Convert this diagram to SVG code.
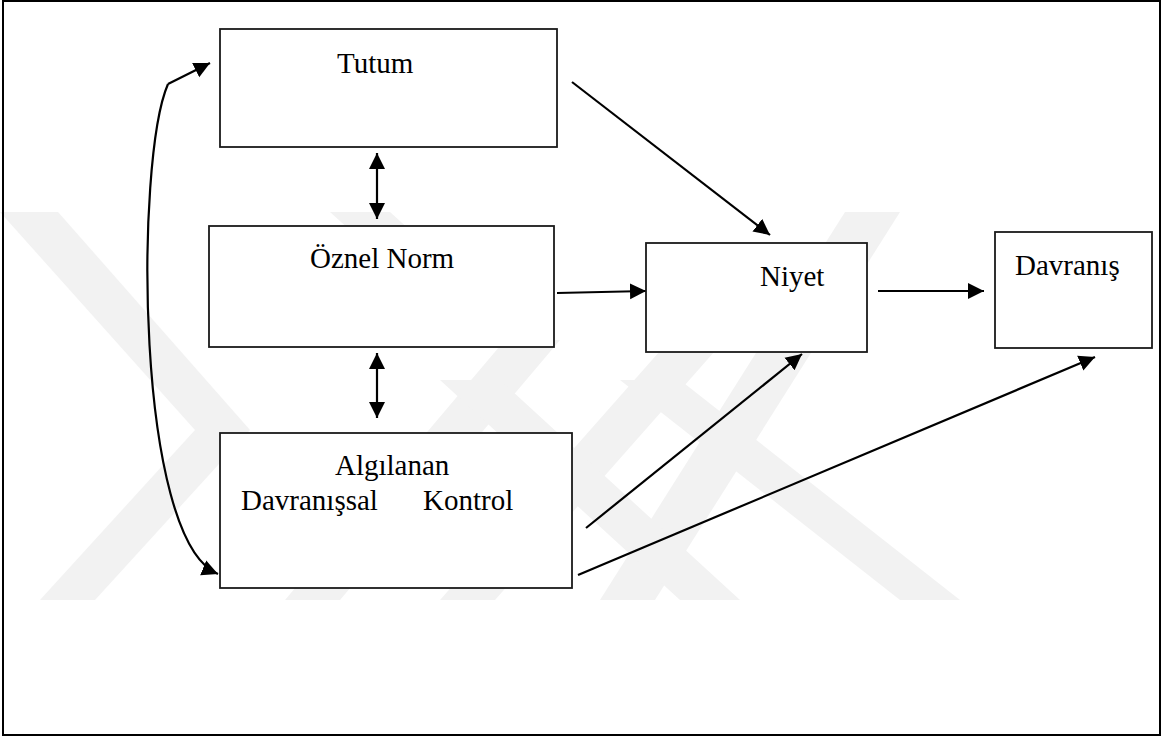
<svg xmlns="http://www.w3.org/2000/svg" width="1168" height="738" viewBox="0 0 1168 738">
<defs>
<marker id="ah" markerUnits="userSpaceOnUse" markerWidth="17" markerHeight="17" refX="16" refY="8.5" orient="auto-start-reverse" viewBox="0 0 17 17">
<path d="M0,0.5 L16,8.5 L0,16.5 z" fill="#000"/>
</marker>
</defs>
<style>
.box{fill:#fff;stroke:#1a1a1a;stroke-width:1.8}
.lbl{font-family:"Liberation Serif","Times New Roman",serif;font-size:29px;fill:#000}
.con{fill:none;stroke:#000;stroke-width:2.2}
.wm{fill:#f2f2f2}
</style>
<rect x="0" y="0" width="1168" height="738" fill="#fff"/>
<g id="watermark">
<polygon class="wm" points="0,212 58,212 250,430 195,430"/>
<polygon class="wm" points="195,430 250,430 95,600 40,600"/>
<polygon class="wm" points="285,600 340,600 560,340 505,340"/>
<polygon class="wm" points="440,600 495,600 760,300 705,300"/>
<polygon class="wm" points="600,600 655,600 900,212 845,212"/>
<polygon class="wm" points="440,380 500,380 740,600 680,600"/>
<polygon class="wm" points="620,380 680,380 960,600 900,600"/>
<polygon class="wm" points="330,212 390,212 520,330 460,330"/>
</g>
<rect x="3" y="1" width="1157" height="734" fill="none" stroke="#000" stroke-width="2"/>
<g id="connectors">
<line class="con" x1="377" y1="153" x2="377" y2="219" marker-start="url(#ah)" marker-end="url(#ah)"/>
<line class="con" x1="377" y1="353" x2="377" y2="418" marker-start="url(#ah)" marker-end="url(#ah)"/>
<line class="con" x1="572" y1="82" x2="770" y2="235" marker-end="url(#ah)"/>
<line class="con" x1="557" y1="293" x2="646" y2="291" marker-end="url(#ah)"/>
<line class="con" x1="878" y1="291" x2="984" y2="291" marker-end="url(#ah)"/>
<line class="con" x1="586" y1="528" x2="802" y2="354" marker-end="url(#ah)"/>
<line class="con" x1="578" y1="575" x2="1095" y2="357" marker-end="url(#ah)"/>
<line class="con" x1="168" y1="84" x2="210" y2="63" marker-end="url(#ah)"/>
<path class="con" d="M168,84 C135,160 135,540 218,574" marker-end="url(#ah)"/>
</g>
<g id="tutum">
<rect class="box" x="220" y="29" width="337" height="118"/>
<text class="lbl" x="337" y="73">Tutum</text>
</g>
<g id="oznel-norm">
<rect class="box" x="209" y="226" width="345" height="121"/>
<text class="lbl" x="310" y="268">Öznel Norm</text>
</g>
<g id="algilanan">
<rect class="box" x="220" y="433" width="352" height="155"/>
<text class="lbl" x="335" y="475">Algılanan</text>
<text class="lbl" x="241" y="510">Davranışsal</text>
<text class="lbl" x="423" y="510">Kontrol</text>
</g>
<g id="niyet">
<rect class="box" x="646" y="243" width="221" height="109"/>
<text class="lbl" x="760" y="286">Niyet</text>
</g>
<g id="davranis">
<rect class="box" x="995" y="232" width="157" height="116"/>
<text class="lbl" x="1015" y="275">Davranış</text>
</g>
</svg>
